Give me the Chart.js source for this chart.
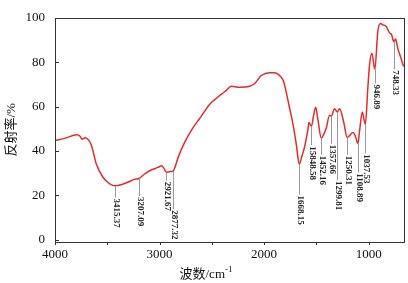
<!DOCTYPE html>
<html>
<head>
<meta charset="utf-8">
<script src="https://cdn.jsdelivr.net/npm/chart.js@4/dist/chart.umd.min.js"></script>
<style>
body { margin: 0; background: #fff; }
</style>
</head>
<body>
<canvas id="irChart" width="408" height="283"></canvas>
<script>
// IR reflectance spectrum
const waveNumbers = [4000, 3900, 3793, 3760, 3742, 3709, 3680, 3652, 3604, 3544, 3496, 3429, 3360, 3300, 3240, 3197,
    3150, 3095, 3015, 2983, 2960, 2935, 2905, 2872, 2850, 2824, 2760, 2681, 2617, 2520, 2450, 2394, 2361, 2314,
    2234, 2138, 2090, 2027, 1947, 1900, 1868, 1840, 1815, 1804, 1758, 1720, 1691, 1664, 1640, 1613, 1581, 1572,
    1547, 1527, 1507, 1485, 1453, 1430, 1405, 1374, 1358, 1326, 1300, 1278, 1240, 1205, 1183, 1151, 1125, 1103,
    1087, 1061, 1032, 1008, 991, 969, 941, 912, 886, 864, 832, 800, 783, 759, 743, 721, 695, 666];
const reflectance = [44.7, 45.8, 47.3, 46.6, 45.3, 46.0, 45.0, 42.6, 34.0, 28.4, 25.9, 24.3, 24.9, 26.0, 27.2, 27.6,
    29.4, 31.1, 32.6, 33.3, 32.4, 30.4, 30.7, 30.9, 33.0, 36.9, 43.9, 50.4, 54.6, 61.1, 64.0, 66.1, 67.3, 69.2,
    68.7, 69.2, 70.4, 74.0, 75.3, 75.2, 74.6, 73.4, 71.5, 69.7, 59.7, 51.1, 42.6, 34.0, 37.5, 41.8, 49.7, 52.8,
    51.1, 56.0, 59.7, 54.0, 45.7, 47.5, 50.4, 56.1, 55.7, 59.0, 57.6, 59.0, 53.3, 46.1, 46.9, 48.3, 46.4, 43.3,
    49.0, 57.6, 51.9, 68.3, 79.0, 84.0, 76.8, 94.0, 97.4, 96.8, 96.1, 93.2, 92.6, 89.3, 90.4, 86.1, 82.4, 78.1];

const xTicks = [4000, 3000, 2000, 1000];
const xMinorTicks = [3500, 2500, 1500];
const yTicks = [0, 20, 40, 60, 80, 100];

// peak marks: where they sit on the curve, their text, and where the leader ends
const peakWaves = [3429, 3197, 2935, 2872, 1664, 1547, 1453, 1358, 1300, 1205, 1103, 1032, 941, 759];
const peakLabels = ["3415.37", "3207.09", "2921.67", "2877.32", "1668.15", "15848.58", "1452.16", "1357.66",
    "1299.81", "1250.31", "1108.89", "1037.53", "946.89", "748.33"];
const peakLabelEnds = [19.0, 19.7, 26.6, 13.7, 20.4, 42.6, 38.3, 43.3, 26.9, 38.3, 30.4, 39.0, 70.4, 76.8];

const serif = '"Liberation Serif", "Times New Roman", serif';
const cjk = '"Noto Sans CJK SC", sans-serif';

const framePlugin = {
    id: 'frame',
    afterDraw(chart) {
        const { ctx, chartArea: a, scales } = chart;
        ctx.save();
        ctx.strokeStyle = '#333';
        ctx.lineWidth = 1;
        ctx.strokeRect(Math.round(a.left) + 0.5, Math.round(a.top) + 0.5,
            Math.round(a.right - a.left), Math.round(a.bottom - a.top));
        ctx.beginPath();
        yTicks.forEach(v => {
            const y = Math.round(scales.y.getPixelForValue(v)) + 0.5;
            ctx.moveTo(a.left, y);
            ctx.lineTo(a.left + 4, y);
        });
        xTicks.concat(xMinorTicks).forEach(v => {
            const x = Math.round(scales.x.getPixelForValue(v)) + 0.5;
            ctx.moveTo(x, a.bottom);
            ctx.lineTo(x, a.bottom + 3);
        });
        ctx.stroke();

        // axis titles
        ctx.fillStyle = '#111';
        ctx.textBaseline = 'alphabetic';
        ctx.font = '13px ' + cjk;
        const w1 = ctx.measureText('波数').width;
        ctx.font = '13px ' + serif;
        const w2 = ctx.measureText('/cm').width;
        ctx.font = '9px ' + serif;
        const w3 = ctx.measureText('-1').width;
        let x0 = 206 - (w1 + w2 + w3) / 2;
        const yb = 278;
        ctx.textAlign = 'left';
        ctx.font = '13px ' + cjk;
        ctx.fillText('波数', x0, yb);
        ctx.font = '13px ' + serif;
        ctx.fillText('/cm', x0 + w1, yb);
        ctx.font = '9px ' + serif;
        ctx.fillText('-1', x0 + w1 + w2, yb - 6);

        ctx.translate(15, (a.top + a.bottom) / 2);
        ctx.rotate(-Math.PI / 2);
        ctx.font = '13px ' + cjk;
        const t1 = ctx.measureText('反射率').width;
        ctx.font = '13px ' + serif;
        const t2 = ctx.measureText('/%').width;
        const s = -(t1 + t2) / 2;
        ctx.font = '13px ' + cjk;
        ctx.fillText('反射率', s, 0);
        ctx.font = '13px ' + serif;
        ctx.fillText('/%', s + t1, 0);
        ctx.restore();
    }
};

const peakPlugin = {
    id: 'peaks',
    afterDatasetsDraw(chart) {
        const { ctx, scales } = chart;
        ctx.save();
        peakWaves.forEach((w, i) => {
            const idx = waveNumbers.indexOf(w);
            const x = Math.round(scales.x.getPixelForValue(w)) + 0.5;
            const y0 = scales.y.getPixelForValue(reflectance[idx]);
            const y1 = scales.y.getPixelForValue(peakLabelEnds[i]);
            ctx.strokeStyle = '#999';
            ctx.lineWidth = 1;
            ctx.beginPath();
            ctx.moveTo(x, y0);
            ctx.lineTo(x, y1);
            ctx.stroke();
            ctx.save();
            ctx.translate(x + 0.5, y1 + 1);
            ctx.rotate(Math.PI / 2);
            ctx.font = 'bold 9px ' + serif;
            ctx.fillStyle = '#222';
            ctx.textAlign = 'left';
            ctx.textBaseline = 'middle';
            ctx.fillText(peakLabels[i], 0, 0);
            ctx.restore();
        });
        ctx.restore();
    }
};

new Chart(document.getElementById('irChart').getContext('2d'), {
    type: 'line',
    data: {
        datasets: [{
            data: waveNumbers.map((w, i) => ({ x: w, y: reflectance[i] })),
            borderColor: '#e62b2b',
            borderWidth: 1.5,
            pointRadius: 0,
            cubicInterpolationMode: 'monotone',
            fill: false
        }]
    },
    options: {
        responsive: false,
        animation: false,
        layout: { padding: { top: 6, right: 4, left: 0, bottom: 0 } },
        plugins: { legend: { display: false }, tooltip: { enabled: false } },
        scales: {
            x: {
                type: 'linear',
                reverse: true,
                min: 662,
                max: 4000,
                afterBuildTicks: s => { s.ticks = xTicks.map(v => ({ value: v })); },
                afterFit: s => { s.height = 41; },
                grid: { display: false, drawTicks: false },
                border: { display: false },
                ticks: {
                    padding: 5, maxRotation: 0, autoSkip: false, color: '#111',
                    font: { family: serif, size: 13 },
                    callback: v => String(v)
                }
            },
            y: {
                min: -1,
                max: 100,
                afterBuildTicks: s => { s.ticks = yTicks.map(v => ({ value: v })); },
                afterFit: s => { s.width = 55; },
                grid: { display: false, drawTicks: false },
                border: { display: false },
                ticks: {
                    padding: 10, color: '#111',
                    font: { family: serif, size: 13 },
                    callback: v => String(v)
                }
            }
        }
    },
    plugins: [framePlugin, peakPlugin]
});
</script>
</body>
</html>
